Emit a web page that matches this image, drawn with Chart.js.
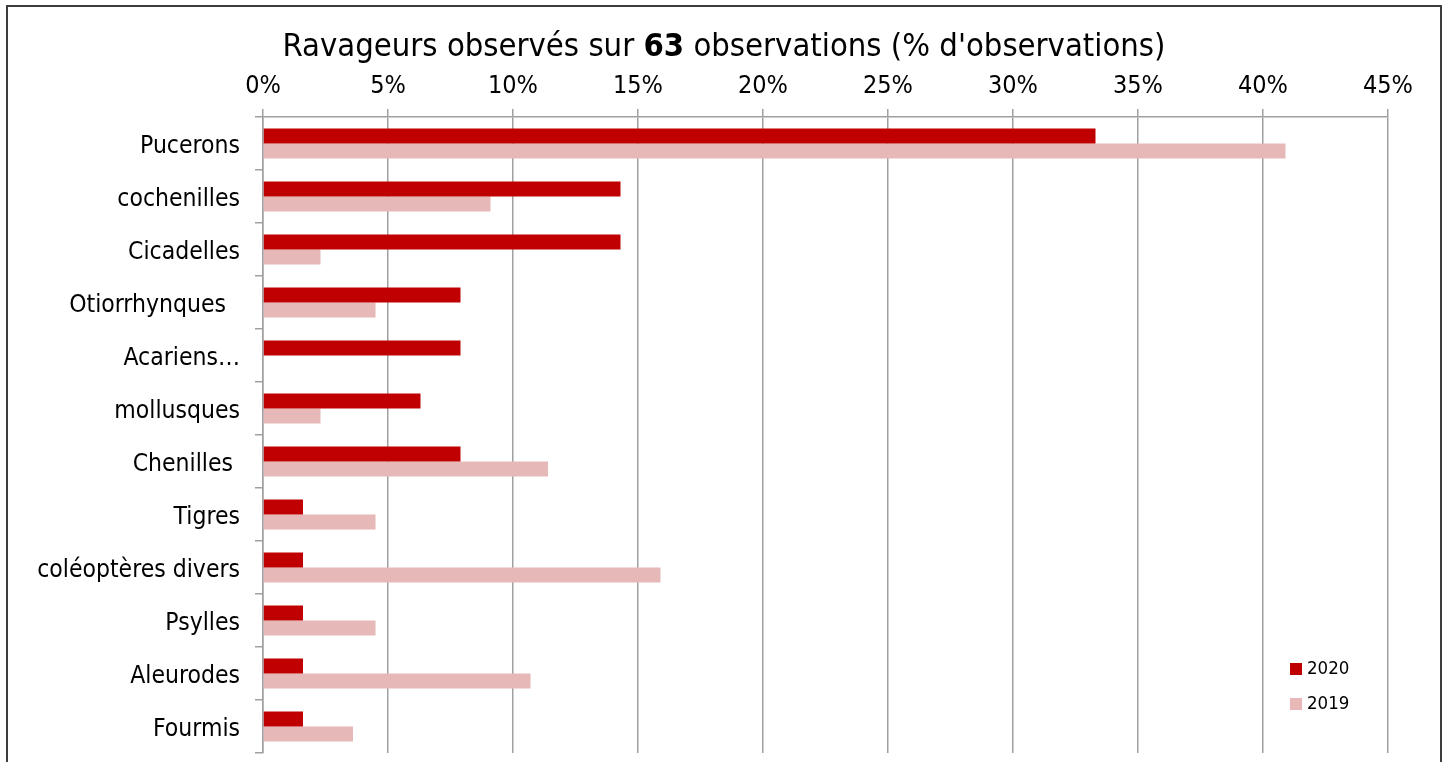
<!DOCTYPE html>
<html>
<head>
<meta charset="utf-8">
<script src="https://cdn.jsdelivr.net/npm/chart.js@4/dist/chart.umd.min.js"></script>
<style>
  body { margin: 0; background: #fff; overflow: hidden; }
  .wrap { position: relative; width: 1448px; height: 762px; }
  .frame { position: absolute; left: 6px; top: 5px; width: 1432px; height: 800px; border: 2px solid #3c3c3c; }
  canvas { position: absolute; left: 0; top: 0; }
</style>
</head>
<body>
<div class="wrap">
  <div class="frame"></div>
  <canvas id="barChart" width="1448" height="762"></canvas>
</div>
<script>
// data
const categories = ['Pucerons', 'cochenilles', 'Cicadelles', 'Otiorrhynques  ', 'Acariens…', 'mollusques',
                    'Chenilles ', 'Tigres', 'coléoptères divers', 'Psylles', 'Aleurodes', 'Fourmis'];
const values2020 = [33.3, 14.3, 14.3, 7.9, 7.9, 6.3, 7.9, 1.6, 1.6, 1.6, 1.6, 1.6];
const values2019 = [40.9, 9.1, 2.3, 4.5, 0, 2.3, 11.4, 4.5, 15.9, 4.5, 10.7, 3.6];
const seriesNames = ['2020', '2019'];
const xTicks = [0, 5, 10, 15, 20, 25, 30, 35, 40, 45];
const titleBefore = 'Ravageurs observés sur ';
const titleCount = '63';
const titleAfter = " observations (% d'observations)";

const fontName = '"DejaVu Sans Condensed", "DejaVu Sans", sans-serif';

// title with the bold number in the middle
const titlePlugin = {
  id: 'mixedTitle',
  afterDraw(chart) {
    const ctx = chart.ctx;
    const parts = [
      { t: titleBefore, f: '32.5px ' + fontName },
      { t: titleCount, f: 'bold 32.5px ' + fontName },
      { t: titleAfter, f: '32.5px ' + fontName }
    ];
    let total = 0;
    parts.forEach(p => { ctx.font = p.f; p.w = ctx.measureText(p.t).width; total += p.w; });
    let x = 724 - total / 2;
    ctx.save();
    ctx.fillStyle = '#000';
    ctx.textBaseline = 'alphabetic';
    ctx.textAlign = 'left';
    parts.forEach(p => { ctx.font = p.f; ctx.fillText(p.t, x, 56); x += p.w; });
    ctx.restore();
  }
};

// small vertical legend in the bottom right corner
const legendPlugin = {
  id: 'cornerLegend',
  afterDraw(chart) {
    const ctx = chart.ctx;
    ctx.save();
    ctx.font = '18.5px ' + fontName;
    ctx.textBaseline = 'middle';
    chart.data.datasets.forEach((ds, i) => {
      const y = 669 + i * 35;
      ctx.fillStyle = ds.backgroundColor;
      ctx.fillRect(1290, y - 6, 12, 12);
      ctx.fillStyle = '#000';
      ctx.fillText(ds.label, 1307, y);
    });
    ctx.restore();
  }
};

var ctxB = document.getElementById('barChart').getContext('2d');
var myBarChart = new Chart(ctxB, {
  type: 'bar',
  data: {
    labels: categories,
    datasets: [{
      label: seriesNames[0],
      data: values2020,
      backgroundColor: '#C00000',
      borderWidth: 0
    },
    {
      label: seriesNames[1],
      data: values2019,
      backgroundColor: '#E6B9B8',
      borderWidth: 0
    }]
  },
  options: {
    indexAxis: 'y',
    responsive: false,
    animation: false,
    layout: { padding: { top: 0, right: 60, bottom: 9, left: 0 } },
    datasets: { bar: { categoryPercentage: 0.57, barPercentage: 1 } },
    plugins: {
      legend: { display: false },
      title: { display: false },
      tooltip: { enabled: false }
    },
    scales: {
      x: {
        position: 'top',
        min: 0,
        max: 45,
        afterBuildTicks: axis => { axis.ticks = xTicks.map(v => ({ value: v })); },
        ticks: {
          callback: v => v + '%',
          color: '#000',
          font: { family: fontName, size: 25 },
          padding: 8,
          maxRotation: 0
        },
        grid: { color: '#a0a0a0', lineWidth: 1.5, tickLength: 8 },
        border: { color: '#a0a0a0', width: 1.5 },
        afterFit: axis => { axis.height = 117; }
      },
      y: {
        ticks: {
          color: '#000',
          font: { family: fontName, size: 24.5 },
          padding: 15,
          labelOffset: 3,
          autoSkip: false
        },
        grid: { drawOnChartArea: false, color: '#a0a0a0', lineWidth: 1.5, tickLength: 8 },
        border: { color: '#a0a0a0', width: 1.5 },
        afterFit: axis => {
          axis.width = 263;
          axis.paddingTop = 0;
          axis.paddingBottom = 0;
        }
      }
    }
  },
  plugins: [titlePlugin, legendPlugin]
});
</script>
</body>
</html>
